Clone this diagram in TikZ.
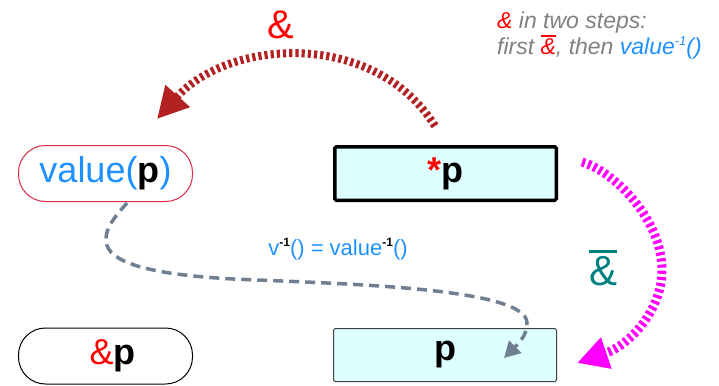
\documentclass[tikz,border=0pt]{standalone}
\usepackage{fontspec}
\setmainfont{Liberation Sans}
\usetikzlibrary{arrows.meta}
\definecolor{vblue}{RGB}{30,144,255}
\definecolor{brick}{RGB}{178,34,34}
\definecolor{cyanfill}{RGB}{221,255,255}
\definecolor{pillred}{RGB}{220,40,70}
\definecolor{slate}{RGB}{112,128,144}
\definecolor{notegray}{RGB}{128,128,128}
\definecolor{tealc}{RGB}{0,128,128}
\definecolor{boxgray}{RGB}{64,64,64}
\definecolor{magent}{RGB}{255,0,255}
\newcommand\fsz[1]{\fontsize{#1}{#1}\selectfont}
\newcommand\myovl[3]{\setbox0\hbox{#3}\vbox{\hrule height #1 width \wd0 \kern #2\box0}}
\newcommand\supb[2]{\raisebox{0.42em}{\fsz{#1}#2}}
\begin{document}
\begin{tikzpicture}[x=1pt,y=-1pt,
  pill/.style={rectangle, rounded corners=27pt, minimum width=174pt, minimum height=56pt,
    line width=1pt, inner sep=0pt, font=\fsz{36}},
  cell/.style={rectangle, fill=cyanfill, rounded corners=1.5pt, inner sep=0pt, font=\fsz{36}},
  bigarrow/.style={dash pattern=on 3.2pt off 3pt,
    -{Triangle[length=31pt,width=31pt]}},
  greyarrow/.style={slate, line width=3.5pt, dash pattern=on 10pt off 6pt,
    -{Triangle[length=16pt,width=17pt]}},
  note/.style={anchor=base west, inner sep=0pt, text=notegray, font=\fsz{23}\itshape}
]
\useasboundingbox (0,0) rectangle (719,385);

% nodes
\node[pill, draw=pillred, text=vblue] (val) at (105.5,173.5) {value(\textcolor{black}{\textbf{p}})};
\node[pill, draw=black] (addr) at (105.5,356) {\hspace*{14pt}\textcolor{red}{\&}\textbf{p}};
\node[cell, draw=black, line width=3.5pt, minimum width=221.5pt, minimum height=53.5pt] (star) at (445.5,173.5) {\textcolor{red}{\textbf{*}}\textbf{p}};
\node[cell, draw=boxgray, line width=1pt, minimum width=223pt, minimum height=53pt] (pp) at (445,355) {\textbf{p}};

% labels
\node[text=red, font=\fsz{40}, inner sep=0pt] (ampA) at (281,25) {\&};
\node[text=tealc, font=\fsz{42}, inner sep=0pt] (ampB) at (603,268) {\myovl{3.5pt}{3.5pt}{\&}};
\node[text=vblue, font=\fsz{22}, inner sep=0pt] (vinv) at (338,249)
  {v\supb{12}{\textcolor{black}{\textbf{-1}}}() = value\supb{12}{\textcolor{black}{\textbf{-1}}}()};
\node[note] (note1) at (497,29) {\textcolor{red}{\&} in two steps:};
\node[note] (note2) at (497,55) {first \textcolor{red}{\myovl{1.8pt}{2pt}{\&}}, then \textcolor{vblue}{value\supb{13}{-1}()}};

% connector end points
\coordinate (brA) at (435,126);
\coordinate (brB) at (157,119);
\coordinate (mgA) at (582,162);
\coordinate (mgB) at (577,363);
\coordinate (grA) at (127,203);
\coordinate (grB) at (504,358);

% arrows
\draw[brick, line width=8pt, bigarrow] (brA) .. controls (375,30) and (230,38) .. (brB);
\draw[magent, line width=9pt, bigarrow] (mgA) .. controls (615,172) and (662,220) .. (662,270)
   .. controls (662,310) and (630,345) .. (mgB);
\draw[greyarrow] (grA) .. controls (112,220) and (106,228) .. (106,240)
   .. controls (106,265) and (160,275) .. (233,279)
   .. controls (350,284) and (527,288) .. (527,323)
   .. controls (527,333) and (522,340) .. (grB);
\end{tikzpicture}
\end{document}
